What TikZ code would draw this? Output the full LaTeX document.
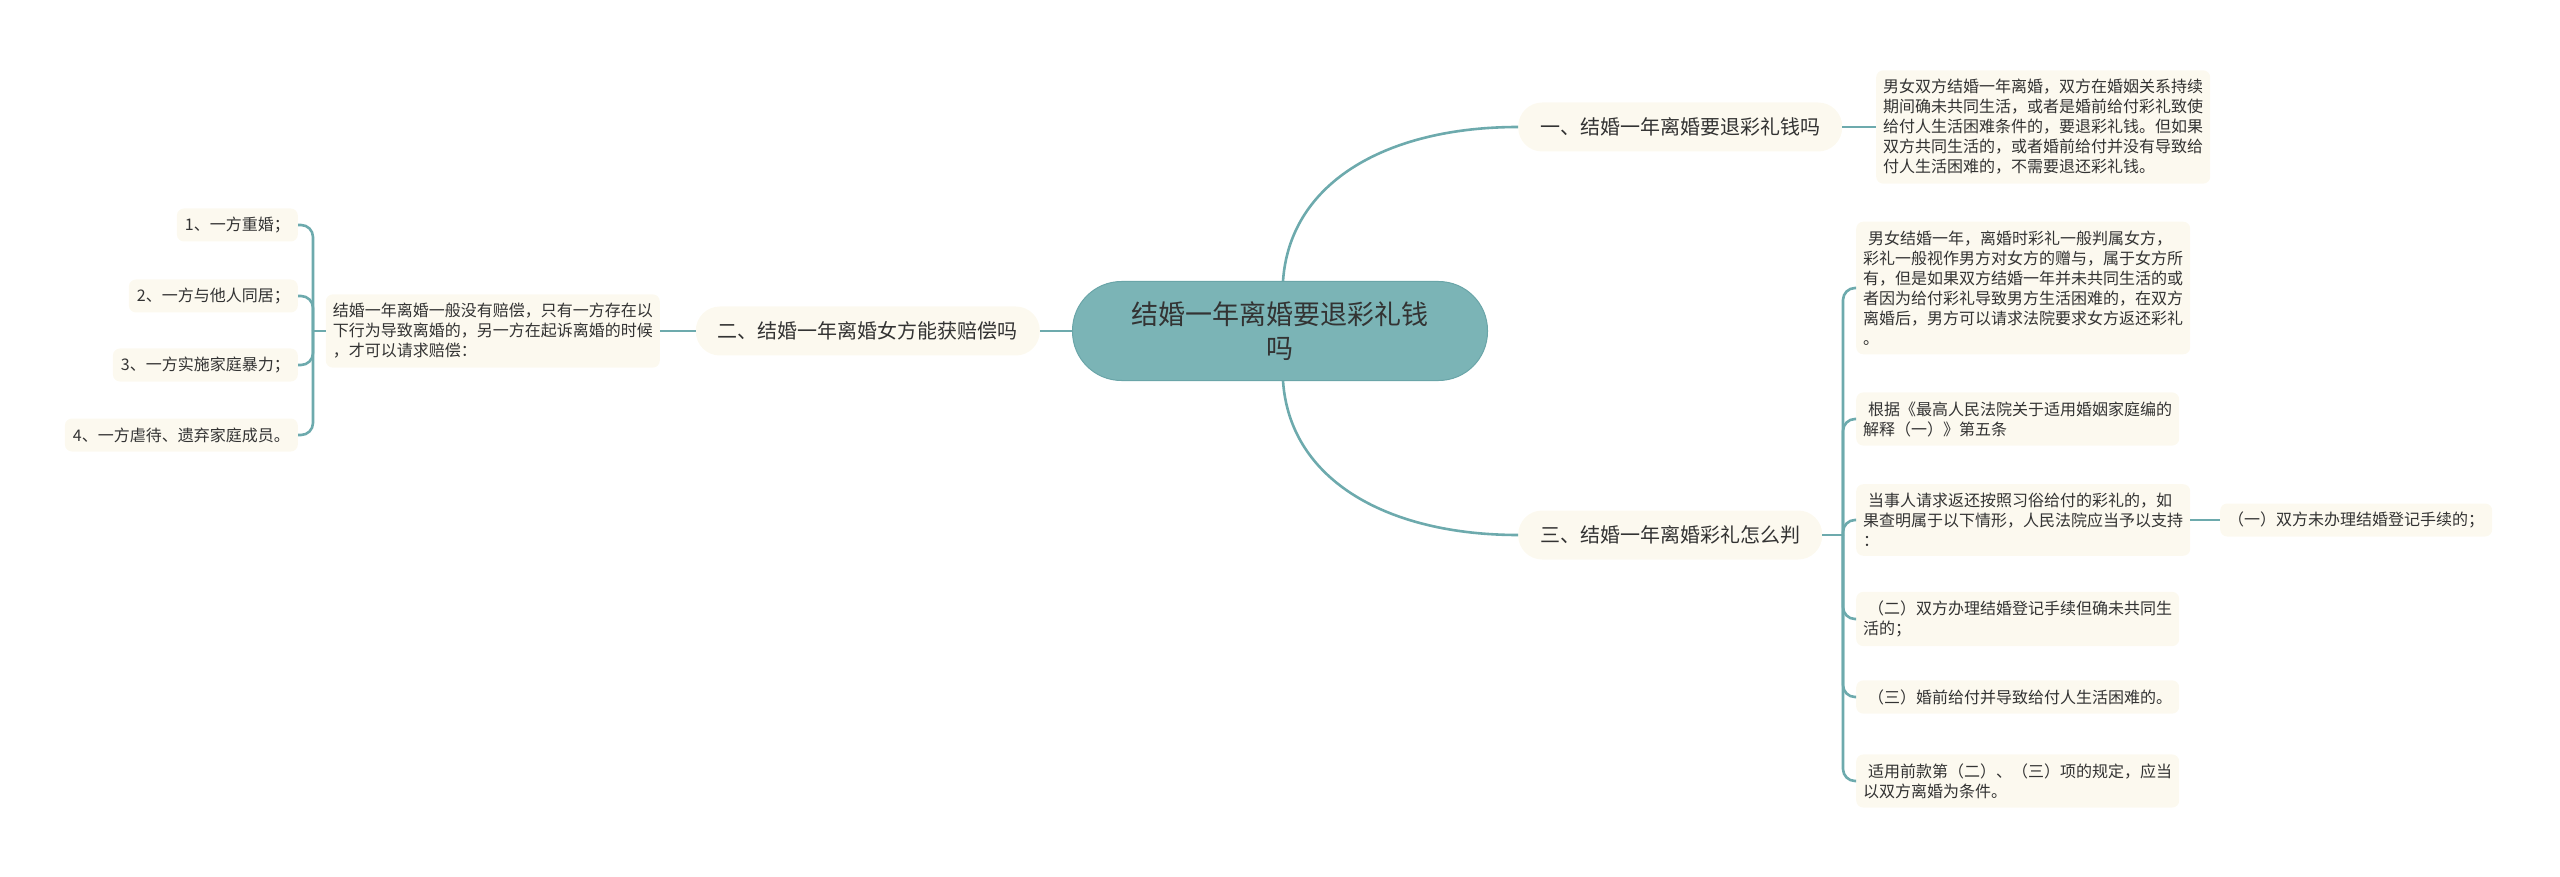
\documentclass[tikz,border=0pt]{standalone}
\usepackage{fontspec}
\setmainfont{Noto Sans CJK SC}
\definecolor{txt}{HTML}{333333}
\definecolor{lnk}{HTML}{6DAAAD}
\definecolor{rootfill}{HTML}{7BB4B6}
\definecolor{rootdraw}{HTML}{6AA5A8}
\definecolor{cream}{HTML}{FCF9EF}
\begin{document}
\begin{tikzpicture}[x=1pt,y=-1pt,
  every node/.style={font=\fontsize{16}{20}\selectfont, text=txt},
  link/.style={draw=lnk, line width=2.6pt},
  curvelink/.style={link, rounded corners=12pt},
  rootbox/.style={fill=rootfill, draw=rootdraw, line width=1pt, rounded corners=49pt,
    minimum width=415pt, minimum height=99pt, align=center, inner sep=0pt,
    font=\fontsize{27}{34}\selectfont},
  topic/.style={fill=cream, rounded corners=24pt, minimum height=49pt, inner xsep=22pt,
    font=\fontsize{20}{24}\selectfont},
  leaf/.style={fill=cream, rounded corners=7pt, align=left, inner xsep=7pt, inner ysep=9pt},
  item/.style={fill=cream, rounded corners=7pt, inner xsep=8pt, inner ysep=8pt, minimum height=33pt},
]
\useasboundingbox (0,0) rectangle (2560,877);

% root
\node[rootbox] (root) at (1280,331) {结婚一年离婚要退彩礼钱\\吗};

% topics
\node[topic, anchor=west] (b1) at (1518,127) {一、结婚一年离婚要退彩礼钱吗};
\node[topic, anchor=east] (b2) at (1040,331) {二、结婚一年离婚女方能获赔偿吗};
\node[topic, anchor=west] (b3) at (1518,535) {三、结婚一年离婚彩礼怎么判};

% branch 1 detail
\node[leaf, anchor=west] (d1) at (1876,127) {男女双方结婚一年离婚，双方在婚姻关系持续\\期间确未共同生活，或者是婚前给付彩礼致使\\给付人生活困难条件的，要退彩礼钱。但如果\\双方共同生活的，或者婚前给付并没有导致给\\付人生活困难的，不需要退还彩礼钱。};

% branch 2 detail
\node[leaf, anchor=east] (l) at (660,331) {结婚一年离婚一般没有赔偿，只有一方存在以\\下行为导致离婚的，另一方在起诉离婚的时候\\，才可以请求赔偿：};
\node[item, anchor=east] (l1) at (298,225) {1、一方重婚；};
\node[item, anchor=east] (l2) at (298,296) {2、一方与他人同居；};
\node[item, anchor=east] (l3) at (298,365) {3、一方实施家庭暴力；};
\node[item, anchor=east] (l4) at (298,435) {4、一方虐待、遗弃家庭成员。};

% branch 3 details
\node[leaf, anchor=west] (c1) at (1856,288) {\hspace*{5pt}男女结婚一年，离婚时彩礼一般判属女方，\\彩礼一般视作男方对女方的赠与，属于女方所\\有，但是如果双方结婚一年并未共同生活的或\\者因为给付彩礼导致男方生活困难的，在双方\\离婚后，男方可以请求法院要求女方返还彩礼\\。};
\node[leaf, anchor=west] (c2) at (1856,419) {\hspace*{5pt}根据《最高人民法院关于适用婚姻家庭编的\\解释（一）》第五条};
\node[leaf, anchor=west] (c3) at (1856,520) {\hspace*{5pt}当事人请求返还按照习俗给付的彩礼的，如\\果查明属于以下情形，人民法院应当予以支持\\：};
\node[leaf, anchor=west] (c4) at (1856,619) {\hspace*{5pt}（二）双方办理结婚登记手续但确未共同生\\活的；};
\node[leaf, anchor=west] (c5) at (1856,697) {\hspace*{5pt}（三）婚前给付并导致给付人生活困难的。};
\node[leaf, anchor=west] (c6) at (1856,781) {\hspace*{5pt}适用前款第（二）、（三）项的规定，应当\\以双方离婚为条件。};
\node[item, anchor=west] (e1) at (2220,520) {（一）双方未办理结婚登记手续的；};

% root connectors
\draw[link] (root.north) ++(3,0) coordinate (rt) .. controls (1290,180) and (1390,127) .. (b1.west);
\draw[link] (root.south) ++(3,0) coordinate (rb) .. controls (1290,482) and (1390,535) .. (b3.west);
\draw[link] (root.west) -- (b2.east);

% branch 1
\draw[link] (b1.east) -- (d1.west);

% branch 2
\draw[link] (b2.west) -- (l.east);
\coordinate (lj) at (313,331);
\draw[link] (l.west) -- (lj);
\foreach \n in {l1,l2,l3,l4} {\draw[curvelink] (lj) |- (\n.east);}

% branch 3
\coordinate (rj) at (1843,535);
\draw[link] (b3.east) -- (rj);
\foreach \n in {c1,c2,c3,c4,c5,c6} {\draw[curvelink] (rj) |- (\n.west);}
\draw[link] (c3.east) -- (e1.west);
\end{tikzpicture}
\end{document}
